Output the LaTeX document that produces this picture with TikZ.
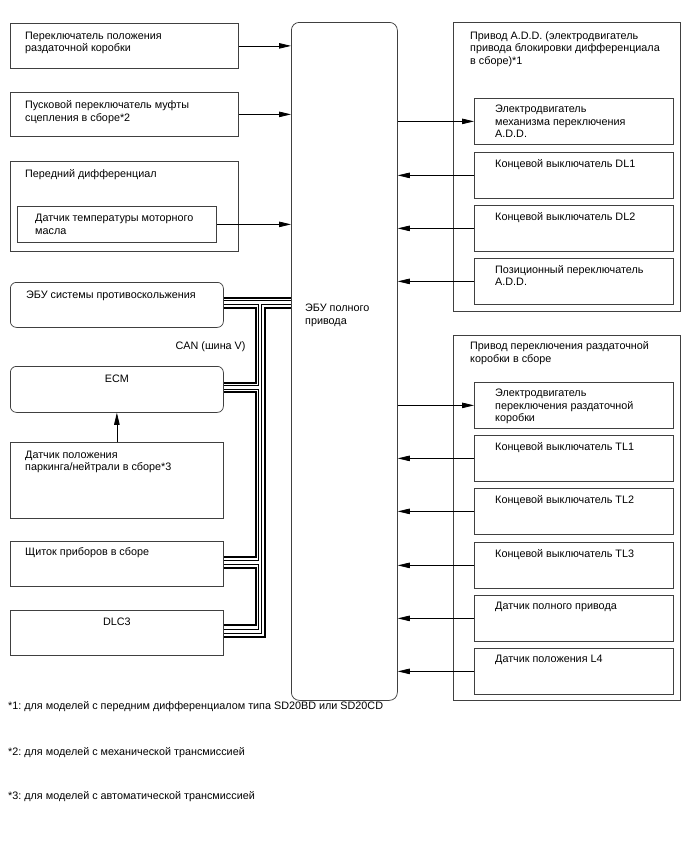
\documentclass[tikz,border=0pt]{standalone}
\usepackage{fontspec}
\setmainfont{Liberation Sans}
\usetikzlibrary{arrows.meta,positioning}

\tikzset{
  blk/.style={draw=black!75, line width=0.75pt, anchor=north west, inner sep=0pt},
  rblk/.style={blk, rounded corners=6pt},
  lbl/.style={anchor=north west, align=left, inner sep=0pt, font=\fontsize{10.8}{12.5}\selectfont},
  sig/.style={line width=0.75pt, -{Triangle[length=12pt,width=5.5pt]}},
  canwire/.style={line width=2pt},
  canout/.style={line width=4.4pt},
  canin/.style={line width=2.8pt, white},
}

\begin{document}
\frenchspacing
\begin{tikzpicture}[x=1pt, y=-1pt]
\useasboundingbox (0,0) rectangle (688,852);

% 4WD ECU
\node[blk, rounded corners=8pt, minimum width=106, minimum height=678] (ecu) at (291,22) {};
\node[lbl, below right=282pt and 14pt of ecu.north west] (ecut) {ЭБУ полного\\привода};

% inputs, left
\node[blk, minimum width=228, minimum height=45] (tcsw) at (10,23) {};
\node[lbl, below right=8.5pt and 15pt of tcsw.north west] (tcswt) {Переключатель положения\\раздаточной коробки};
\node[blk, minimum width=228, minimum height=44] (clsw) at (10,92) {};
\node[lbl, below right=8.5pt and 15pt of clsw.north west] (clswt) {Пусковой переключатель муфты\\сцепления в сборе*2};
\node[blk, minimum width=228, minimum height=90] (fdiff) at (10,161) {};
\node[lbl, below right=8pt and 15pt of fdiff.north west] (fdifft) {Передний дифференциал};
\node[blk, minimum width=199, minimum height=36] (oilt) at (17,206) {};
\node[lbl, below right=8pt and 18pt of oilt.north west] (oiltt) {Датчик температуры моторного\\масла};

\draw[sig] (tcsw.east) -- (tcsw.east -| ecu.west);
\draw[sig] (clsw.east) -- (clsw.east -| ecu.west);
\draw[sig] (oilt.east) -- (oilt.east -| ecu.west);

% CAN side
\node[rblk, minimum width=213, minimum height=45] (abs) at (10,282) {};
\node[lbl, below right=9pt and 16pt of abs.north west] (abst) {ЭБУ системы противоскольжения};
\node[lbl, anchor=north east] (canlbl) at ([shift={(22,13.5)}]abs.south east) {CAN (шина V)};
\node[rblk, minimum width=213, minimum height=46] (ecm) at (10,366) {};
\node[lbl, anchor=north] (ecmt) at ([yshift=-8.5pt]ecm.north) {ECM};
\node[blk, minimum width=213, minimum height=76] (pnp) at (10,442) {};
\node[lbl, below right=8.5pt and 15pt of pnp.north west] (pnpt) {Датчик положения\\паркинга/нейтрали в сборе*3};
\node[blk, minimum width=213, minimum height=45] (icl) at (10,541) {};
\node[lbl, below right=6.5pt and 15pt of icl.north west] (iclt) {Щиток приборов в сборе};
\node[blk, minimum width=213, minimum height=45] (dlc) at (10,610) {};
\node[lbl, anchor=north] (dlct) at ([yshift=-7.5pt]dlc.north) {DLC3};

\draw[sig] (pnp.north) -- (ecm.south);

% bus taps
\coordinate (busi) at (256,0);
\coordinate (busd) at (260,0);
\coordinate (buso) at (265,0);
\coordinate (abs1) at ([yshift=7pt]abs.east);
\coordinate (abs2) at ([yshift=2.5pt]abs.east);
\coordinate (abs3) at ([yshift=-3.5pt]abs.east);
\coordinate (ecm1) at ([yshift=6.5pt]ecm.east);
\coordinate (ecm2) at ([yshift=2pt]ecm.east);
\coordinate (ecm3) at ([yshift=-2.5pt]ecm.east);
\coordinate (icl1) at ([yshift=7pt]icl.east);
\coordinate (icl2) at ([yshift=1.5pt]icl.east);
\coordinate (icl3) at ([yshift=-4.5pt]icl.east);
\coordinate (dlc1) at ([yshift=7.5pt]dlc.east);
\coordinate (dlc2) at ([yshift=1.5pt]dlc.east);
\coordinate (dlc3) at ([yshift=-4.5pt]dlc.east);

\draw[canwire] (abs1) -- (abs1 -| ecu.west);
\draw[canwire] (abs3) -- (abs3 -| busi) |- (ecm1);
\draw[canwire] (ecm3) -- (ecm3 -| busi) |- (icl1);
\draw[canwire] (icl3) -- (icl3 -| busi) |- (dlc1);
\draw[canwire] (dlc3) -- (dlc3 -| buso) |- (abs3 -| ecu.west);
\foreach \sty in {canout,canin}
  \draw[\sty] (abs2) -- (abs2 -| ecu.west)
              (abs2 -| busd) |- (dlc2)
              (ecm2) -- (ecm2 -| busd)
              (icl2) -- (icl2 -| busd);

% actuators, right
\node[blk, minimum width=227, minimum height=289] (add) at (453,22) {};
\node[lbl, below right=9pt and 17pt of add.north west] (addt) {Привод A.D.D. (электродвигатель\\привода блокировки дифференциала\\в сборе)*1};
\node[blk, minimum width=227, minimum height=365] (tfa) at (453,335) {};
\node[lbl, below right=6.5pt and 17pt of tfa.north west] (tfat) {Привод переключения раздаточной\\коробки в сборе};

\foreach \nm/\yy/\txt in {
    addm/98/{Электродвигатель\\механизма переключения\\A.D.D.},
    dl1/152/{Концевой выключатель DL1},
    dl2/205/{Концевой выключатель DL2},
    addp/258/{Позиционный переключатель\\A.D.D.},
    tfm/382/{Электродвигатель\\переключения раздаточной\\коробки},
    tl1/435/{Концевой выключатель TL1},
    tl2/488/{Концевой выключатель TL2},
    tl3/542/{Концевой выключатель TL3},
    fwd/595/{Датчик полного привода},
    l4/648/{Датчик положения L4}}
{
  \node[blk, minimum width=199, minimum height=46] (\nm) at (474,\yy) {};
  \node[lbl, below right=7pt and 21pt of \nm.north west] (\nm-t) {\txt};
}

\draw[sig] (addm.west -| ecu.east) -- (addm.west);
\draw[sig] (tfm.west -| ecu.east) -- (tfm.west);
\foreach \nm in {dl1,dl2,addp,tl1,tl2,tl3,fwd,l4}
  \draw[sig] (\nm.west) -- (\nm.west -| ecu.east);

% notes
\node[lbl] (fn1) at (8,701.5) {*1: для моделей с передним дифференциалом типа SD20BD или SD20CD};
\node[lbl] (fn2) at (8,747) {*2: для моделей с механической трансмиссией};
\node[lbl] (fn3) at (8,791.5) {*3: для моделей с автоматической трансмиссией};
\end{tikzpicture}
\end{document}
